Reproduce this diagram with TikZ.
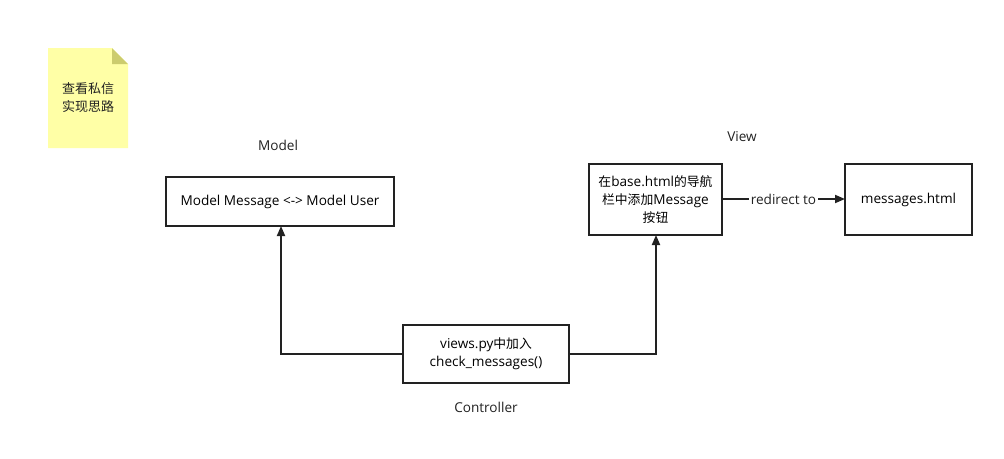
\documentclass[tikz,border=0pt]{standalone}
\usepackage{fontspec}
\setmainfont{Open Sans}
\newfontfamily\cjk{Noto Sans CJK SC}
\usetikzlibrary{arrows.meta}
\definecolor{notefill}{RGB}{255,255,166}
\definecolor{notefold}{RGB}{204,204,110}
\definecolor{linec}{RGB}{34,34,34}
\begin{document}
\begin{tikzpicture}[x=1pt,y=-1pt,
  box/.style={draw=linec,line width=1.8pt,fill=white,inner sep=0pt,align=center,font=\fontsize{13.6}{18}\selectfont},
  lbl/.style={font=\fontsize{13.6}{17}\selectfont,text=linec,inner sep=1pt},
  conn/.style={draw=linec,line width=1.8pt,-{Triangle[length=10pt,width=8pt]}}]
\useasboundingbox[fill=white] (0,0) rectangle (1004,458);
% note
\fill[notefill] (48,48) -- (112,48) -- (128,64) -- (128,148) -- (48,148) -- cycle;
\fill[notefold] (112,48) -- (128,64) -- (112,64) -- cycle;
\node[lbl,align=center,font=\cjk\fontsize{13}{18}\selectfont] (note) at (88,98) {查看私信\\实现思路};
% nodes
\node[box,minimum width=228pt,minimum height=49pt] (model) at (280,201.5) {Model Message <-> Model User};
\node[box,minimum width=133pt,minimum height=71pt] (view) at (655.5,199.5) {{\cjk\fontsize{12.8}{18}\selectfont 在}base.html{\cjk\fontsize{12.8}{18}\selectfont 的导航}\\{\cjk\fontsize{12.8}{18}\selectfont 栏中添加}Message\\{\cjk\fontsize{12.8}{18}\selectfont 按钮}};
\node[box,minimum width=127pt,minimum height=71pt] (msgs) at (908.5,199.5) {messages.html};
\node[box,minimum width=166pt,minimum height=58pt] (ctrl) at (486,354) {views.py{\cjk\fontsize{12.8}{18}\selectfont 中加入}\\check\_messages()};
% labels
\node[lbl] (modellbl) at (278,145) {Model};
\node[lbl] (viewlbl) at (742,137) {View};
\node[lbl] (ctrllbl) at (486,407) {Controller};
% connectors
\coordinate (vs) at (656,235);
\coordinate (ms) at (281,226);
\coordinate (ve) at (722,199);
\coordinate (me) at (845,199);
\draw[conn] (ctrl.west) -| (ms);
\draw[conn] (ctrl.east) -| (vs);
\draw[conn] (ve) -- node[lbl,fill=white,inner sep=2pt] (redir) {redirect to} (me);
\end{tikzpicture}
\end{document}
